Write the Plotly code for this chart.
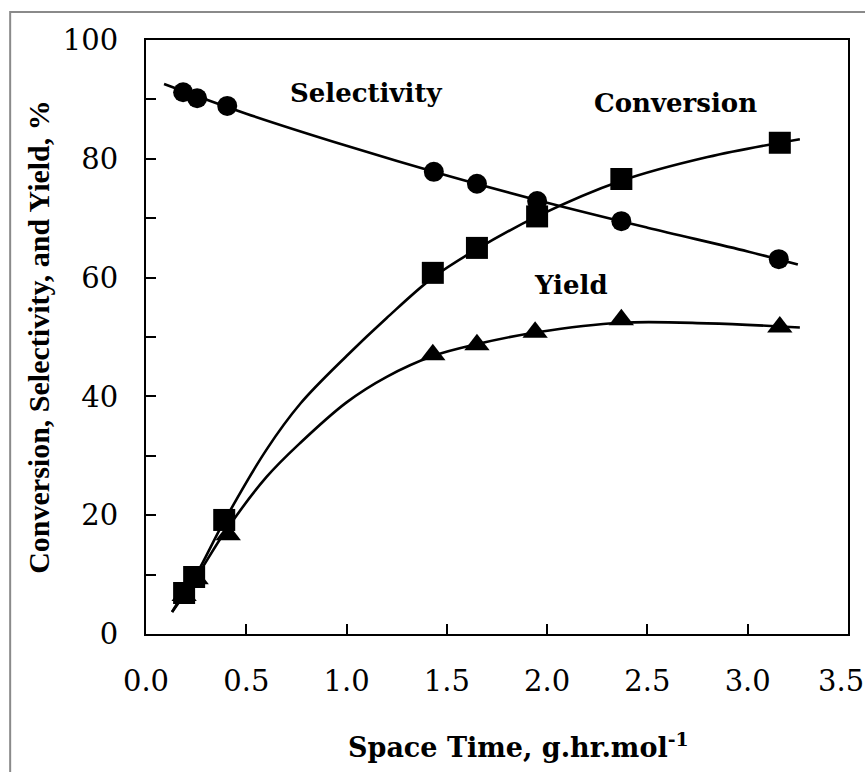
import plotly.graph_objects as go

# Marker data
sel_x = [0.185, 0.255, 0.405, 1.435, 1.65, 1.95, 2.37, 3.155]
sel_y = [91.2, 90.2, 88.9, 77.8, 75.8, 72.9, 69.5, 63.1]

conv_x = [0.19, 0.24, 0.39, 1.43, 1.65, 1.95, 2.37, 3.16]
conv_y = [6.9, 9.6, 19.2, 60.8, 65.0, 70.3, 76.6, 82.7]

yld_x = [0.19, 0.25, 0.41, 1.43, 1.65, 1.94, 2.37, 3.16]
yld_y = [6.5, 9.3, 16.7, 47.0, 48.7, 50.8, 52.9, 51.7]

# Fitted curves
sel_fit_x = [0.09, 0.5, 1.0, 1.5, 2.0, 2.5, 3.0, 3.25]
sel_fit_y = [92.6, 87.6, 82.2, 77.2, 72.6, 68.4, 64.4, 62.2]

conv_fit_x = [0.13, 0.19, 0.25, 0.39, 0.6, 0.77, 1.0, 1.2, 1.43, 1.65, 1.95, 2.37, 2.8, 3.26]
conv_fit_y = [3.7, 7.0, 10.0, 19.0, 31.0, 38.8, 46.8, 53.2, 60.0, 64.8, 70.3, 76.3, 80.3, 83.3]

yld_fit_x = [0.13, 0.25, 0.39, 0.6, 0.77, 1.0, 1.2, 1.43, 1.65, 1.95, 2.37, 2.8, 3.26]
yld_fit_y = [3.7, 9.5, 17.0, 26.4, 32.2, 39.0, 43.3, 46.8, 48.8, 50.8, 52.4, 52.3, 51.6]

x_ticks = [0.0, 0.5, 1.0, 1.5, 2.0, 2.5, 3.0, 3.5]
x_ticktext = ["0.0", "0.5", "1.0", "1.5", "2.0", "2.5", "3.0", ""]
last_x_label = "3.5"
y_ticks = [0, 20, 40, 60, 80, 100]

labels = ["Selectivity", "Conversion", "Yield"]
label_x = [1.095, 2.64, 2.12]
label_y = [91.1, 89.4, 58.8]

WIDE = "DejaVu Serif, serif"
TIMES = "Liberation Serif, Times New Roman, serif"
fig = go.Figure()

for fx, fy in [(sel_fit_x, sel_fit_y), (conv_fit_x, conv_fit_y), (yld_fit_x, yld_fit_y)]:
    fig.add_trace(go.Scatter(x=fx, y=fy, mode="lines",
                             line=dict(color="black", width=2.6, shape="spline", smoothing=1.0),
                             hoverinfo="skip", showlegend=False))

fig.add_trace(go.Scatter(x=sel_x, y=sel_y, mode="markers", name="Selectivity",
                         marker=dict(symbol="circle", size=20, color="black"), showlegend=False))
fig.add_trace(go.Scatter(x=conv_x, y=conv_y, mode="markers", name="Conversion",
                         marker=dict(symbol="square", size=22, color="black"), showlegend=False))
fig.add_trace(go.Scatter(x=yld_x, y=yld_y, mode="markers", name="Yield",
                         marker=dict(symbol="triangle-up", size=22, color="black"), showlegend=False))

for t, ax, ay in zip(labels, label_x, label_y):
    fig.add_annotation(x=ax, y=ay, text="<b>%s</b>" % t, showarrow=False,
                       font=dict(family=WIDE, size=26, color="black"))

# last x tick label, kept inside the page edge
fig.add_annotation(x=x_ticks[-1], xref="x", yref="paper", y=-0.0785, yanchor="middle",
                   xanchor="right", xshift=18, text=last_x_label, showarrow=False,
                   font=dict(family=WIDE, size=29, color="black"))

# x-axis title (placed slightly right of centre, as in the original)
fig.add_annotation(xref="paper", yref="paper", x=0.531, y=-0.187, xanchor="center", yanchor="middle",
                   text="<b>Space Time, g.hr.mol<sup>-1</sup></b>", showarrow=False,
                   font=dict(family=WIDE, size=27, color="black"))

# outer grey frame of the scanned figure
fig.add_shape(type="rect", xref="paper", yref="paper", x0=-0.1935, x1=1.2, y0=-0.3, y1=1.047,
              line=dict(color="#8a8a8a", width=2), layer="below")

fig.update_xaxes(range=[0, 3.5], tickvals=x_ticks, ticktext=x_ticktext,
                 showline=True, linecolor="black", linewidth=2, mirror=True,
                 ticks="inside", ticklen=10, tickwidth=2, tickcolor="black",
                 showgrid=False, zeroline=False, automargin=False,
                 tickfont=dict(family=WIDE, size=29, color="black"),
                 ticklabelstandoff=20, ticklabeloverflow="allow")
fig.update_yaxes(range=[0, 100], tickvals=y_ticks,
                 showline=True, linecolor="black", linewidth=2, mirror=True,
                 ticks="inside", ticklen=10, tickwidth=2, tickcolor="black",
                 minor=dict(dtick=10, ticks="inside", ticklen=10, tickwidth=2, tickcolor="black"),
                 showgrid=False, zeroline=False, automargin=False,
                 tickfont=dict(family=WIDE, size=29, color="black"),
                 ticklabelstandoff=20, ticklabeloverflow="allow",
                 title=dict(text="<b>Conversion, Selectivity, and Yield, %</b>",
                            font=dict(family=TIMES, size=30, color="black"), standoff=4))

fig.update_layout(width=865, height=772, margin=dict(l=146, r=17, t=40, b=138),
                  plot_bgcolor="white", paper_bgcolor="white")

fig.write_html("out.html")
